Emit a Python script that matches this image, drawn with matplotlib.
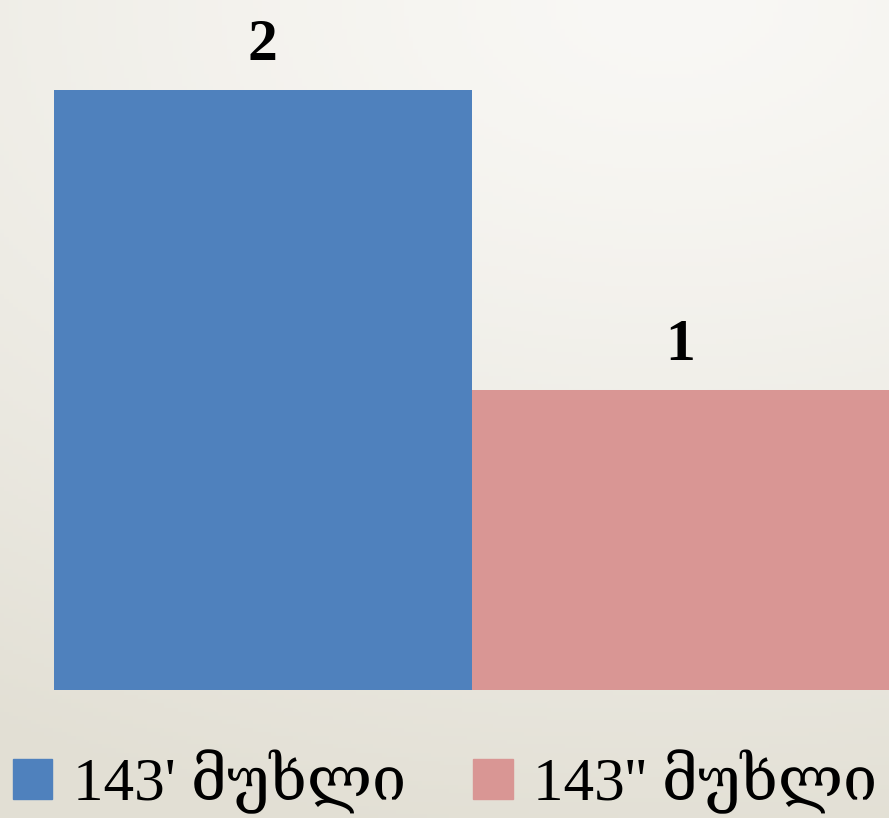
import matplotlib.pyplot as plt
import numpy as np
from matplotlib.patches import Patch

labels = ["143' მუხლი", "143'' მუხლი"]
values = [2, 1]
colors = ['#4f81bd', '#d99694']

fonts = ['Liberation Serif', 'DejaVu Serif', 'DejaVu Sans']

fig = plt.figure(figsize=(8.89, 8.18), dpi=100)

# background gradient, light at top right, beige toward the bottom
bg = fig.add_axes([0, 0, 1, 1], zorder=-10)
yy, xx = np.mgrid[0:1:200j, 0:1:200j]
t = np.sqrt(((xx - 0.75) * 0.7) ** 2 + (yy - 0.0) ** 2)
t = np.clip(t / 1.05, 0, 1) ** 1.3
light = np.array([249, 248, 245]) / 255
dark = np.array([226, 223, 212]) / 255
img = light[None, None, :] * (1 - t[..., None]) + dark[None, None, :] * t[..., None]
bg.imshow(img, extent=[0, 1, 0, 1], origin='upper', aspect='auto')
bg.axis('off')

ax = fig.add_axes([54 / 889, 128 / 818, 1 - 54 / 889, 690 / 818])
ax.patch.set_alpha(0)
x = np.arange(len(values))
bars = ax.bar(x, values, width=1.0, color=colors)
ax.set_xlim(-0.5, 1.5)
ax.set_ylim(0, 2.3)
ax.axis('off')

for xi, v in zip(x, values):
    ax.text(xi, v + 0.055, str(v), ha='center', va='bottom',
            fontsize=43, fontweight='bold', family=fonts)

handles = [Patch(color=c) for c in colors]
fig.legend(handles, labels, loc='lower left', bbox_to_anchor=(-0.027, -0.04),
           ncol=2, frameon=False, prop={'family': fonts, 'size': 44},
           handlelength=0.65, handleheight=0.62, handletextpad=0.33,
           columnspacing=1.1, borderaxespad=0.2)

fig.savefig('out.png', dpi=100)
